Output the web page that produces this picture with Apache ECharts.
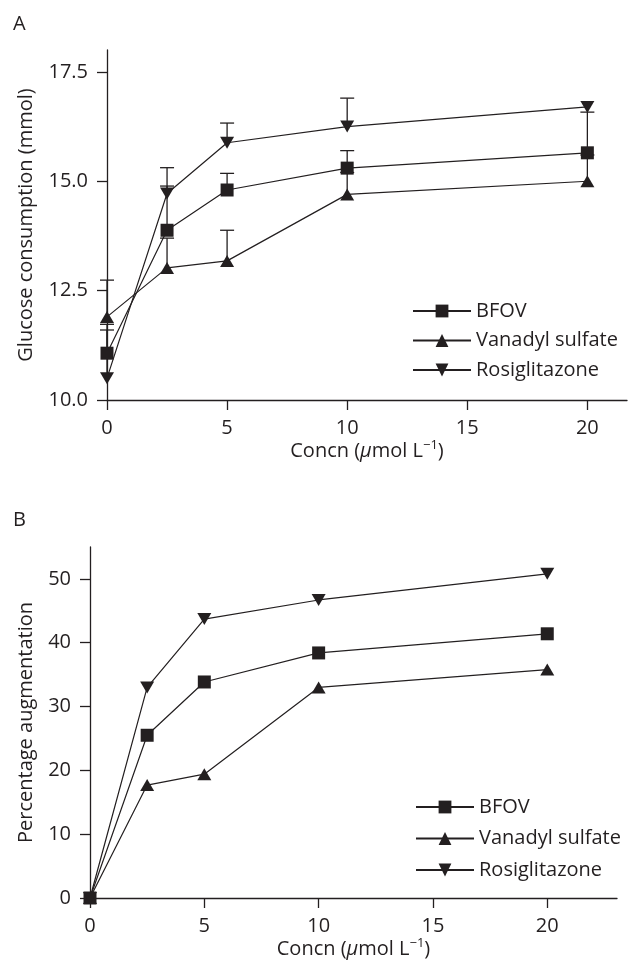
<!DOCTYPE html>
<html>
<head>
<meta charset="utf-8">
<script src="https://cdn.jsdelivr.net/npm/echarts@6/dist/echarts.min.js"></script>
<style>
html,body{margin:0;padding:0;background:#fff;}
#main{width:628px;height:965px;}
</style>
</head>
<body>
<div id="main"></div>
<script>
// ---- data ----
var concn = [0, 2.5, 5, 10, 20];
var seriesNames = ['BFOV', 'Vanadyl sulfate', 'Rosiglitazone'];
var xTicks = [0, 5, 10, 15, 20];
var yTicksA = [10, 12.5, 15, 17.5];
var yTicksB = [0, 10, 20, 30, 40, 50];

// Panel A: glucose consumption (mmol)
var bfovA = [11.07, 13.88, 14.80, 15.30, 15.65];
var vanadylA = [11.90, 13.02, 13.18, 14.70, 15.00];
var rosiA = [10.50, 14.72, 15.88, 16.25, 16.70];
// upper ends of error bars
var bfovTopA = [11.60, 14.89, 15.18, 15.70, 16.58];
var vanadylTopA = [12.74, 13.70, 13.88, 15.20, 15.60];
var rosiTopA = [11.73, 15.31, 16.33, 16.90, 16.70];

// Panel B: percentage augmentation
var bfovB = [0, 25.5, 33.85, 38.4, 41.4];
var vanadylB = [0, 17.7, 19.4, 33.0, 35.8];
var rosiB = [0, 33.0, 43.7, 46.7, 50.8];

// ---- styling ----
var ink = '#231f20';
var FONT = 'Open Sans';
var FS = 20;

function pairs(xs, ys) { return xs.map(function (x, i) { return [x, ys[i]]; }); }
function errData(xs, ys, tops) { return xs.map(function (x, i) { return [x, ys[i], tops[i]]; }); }

var symbols = [
  { symbol: 'rect', size: 13, rotate: 0 },
  { symbol: 'triangle', size: [14, 12], rotate: 0 },
  { symbol: 'triangle', size: [14, 12], rotate: 180 }
];

function lineSeries(name, idx, data, k) {
  return {
    type: 'line', name: name, xAxisIndex: k, yAxisIndex: k,
    data: data, symbol: symbols[idx].symbol, symbolSize: symbols[idx].size,
    symbolRotate: symbols[idx].rotate, showAllSymbol: true, clip: false,
    lineStyle: { color: ink, width: 1.2 }, itemStyle: { color: ink },
    emphasis: { disabled: true }, z: 3, animation: false
  };
}

function errSeries(name, data) {
  return {
    type: 'custom', name: name + ' err', xAxisIndex: 0, yAxisIndex: 0,
    data: data, z: 2, clip: false, animation: false, silent: true,
    renderItem: function (params, api) {
      var p1 = api.coord([api.value(0), api.value(1)]);
      var p2 = api.coord([api.value(0), api.value(2)]);
      if (Math.abs(p1[1] - p2[1]) < 0.5) return null;
      var st = { stroke: ink, lineWidth: 1.3 };
      return {
        type: 'group', children: [
          { type: 'line', shape: { x1: p1[0], y1: p1[1], x2: p2[0], y2: p2[1] }, style: st },
          { type: 'line', shape: { x1: p2[0] - 7, y1: p2[1], x2: p2[0] + 7, y2: p2[1] }, style: st }
        ]
      };
    }
  };
}

var xName = {
  rich: {
    a: { fontFamily: FONT, fontSize: FS, color: ink, lineHeight: 24 },
    i: { fontFamily: FONT, fontSize: FS, color: ink, fontStyle: 'italic', lineHeight: 24 },
    s: { fontFamily: FONT, fontSize: 13, color: ink, verticalAlign: 'top', lineHeight: 24, padding: [0, 0, 10, 0] }
  }
};
var xNameStr = '{a|Concn (}{i|μ}{a|mol L}{s|−1}{a|)}';

function xAxisCfg(k, max, gap) {
  return {
    type: 'value', gridIndex: k, min: 0, max: max,
    name: xNameStr, nameLocation: 'middle', nameGap: gap, nameTextStyle: xName,
    axisLine: { show: true, onZero: false, lineStyle: { color: ink, width: 1.3 } },
    axisTick: { show: true, length: 10, customValues: xTicks, lineStyle: { color: ink, width: 1.3 } },
    axisLabel: { customValues: xTicks, margin: 18, color: ink, fontFamily: FONT, fontSize: FS },
    splitLine: { show: false }
  };
}

function yAxisCfg(k, min, max, ticks, name, gap, fmt) {
  return {
    type: 'value', gridIndex: k, min: min, max: max,
    name: name, nameLocation: 'middle', nameGap: gap, nameRotate: 90,
    nameTextStyle: { fontFamily: FONT, fontSize: FS, color: ink },
    axisLine: { show: true, onZero: false, lineStyle: { color: ink, width: 1.3 } },
    axisTick: { show: true, length: 10, customValues: ticks, lineStyle: { color: ink, width: 1.3 } },
    axisLabel: { customValues: ticks, margin: 19, color: ink, fontFamily: FONT, fontSize: FS, formatter: fmt },
    splitLine: { show: false }
  };
}

function legendCfg(left, top, gap) {
  return {
    orient: 'vertical', left: left, top: top, itemWidth: 58, itemHeight: 16, itemGap: gap,
    data: seriesNames, selectedMode: false,
    textStyle: { fontFamily: FONT, fontSize: FS, color: ink, lineHeight: 20 }
  };
}

var option = {
  backgroundColor: '#fff',
  animation: false,
  textStyle: { fontFamily: FONT },
  title: [
    { text: 'A', left: 8, top: 9, textStyle: { fontFamily: FONT, fontSize: 20, fontWeight: 'normal', color: ink } },
    { text: 'B', left: 8, top: 505, textStyle: { fontFamily: FONT, fontSize: 20, fontWeight: 'normal', color: ink } }
  ],
  grid: [
    { left: 107, right: 1, top: 50, bottom: 565 },
    { left: 90, right: 11, top: 547, bottom: 67 }
  ],
  legend: [legendCfg(407, 296, 9.5), legendCfg(410, 792, 11.5)],
  xAxis: [xAxisCfg(0, 21.65, 31), xAxisCfg(1, 23.05, 37)],
  yAxis: [
    yAxisCfg(0, 10, 18, yTicksA, 'Glucose consumption (mmol)', 71, function (v) { return v.toFixed(1); }),
    yAxisCfg(1, 0, 55, yTicksB, 'Percentage augmentation', 54, function (v) { return String(v); })
  ],
  series: [
    errSeries('BFOV', errData(concn, bfovA, bfovTopA)),
    errSeries('Vanadyl sulfate', errData(concn, vanadylA, vanadylTopA)),
    errSeries('Rosiglitazone', errData(concn, rosiA, rosiTopA)),
    lineSeries('BFOV', 0, pairs(concn, bfovA), 0),
    lineSeries('Vanadyl sulfate', 1, pairs(concn, vanadylA), 0),
    lineSeries('Rosiglitazone', 2, pairs(concn, rosiA), 0),
    lineSeries('BFOV', 0, pairs(concn, bfovB), 1),
    lineSeries('Vanadyl sulfate', 1, pairs(concn, vanadylB), 1),
    lineSeries('Rosiglitazone', 2, pairs(concn, rosiB), 1)
  ]
};

var chart = echarts.init(document.getElementById('main'), null, { renderer: 'canvas' });
chart.setOption(option);
</script>
</body>
</html>
